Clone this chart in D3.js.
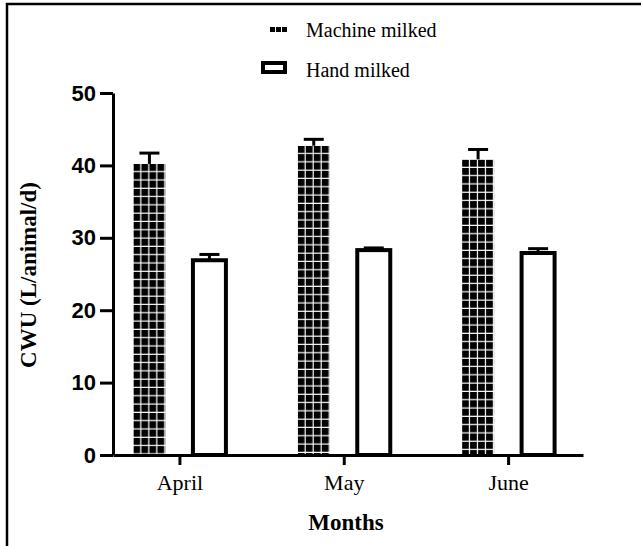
<!DOCTYPE html>
<html>
<head>
<meta charset="utf-8">
<script src="https://cdn.jsdelivr.net/npm/d3@7"></script>
<style>
  body { margin: 0; background: #fff; }
  svg { display: block; }
</style>
</head>
<body>
<div id="chart"></div>
<script>
// data
const months = ["April", "May", "June"];
const series = ["Machine milked", "Hand milked"];
const machineMean = [40.2, 42.7, 40.8];
const machineErr = [1.5, 0.9, 1.4];
const handMean = [26.9, 28.3, 27.9];
const handErr = [0.8, 0.3, 0.6];
const yTicks = [0, 10, 20, 30, 40, 50];

const width = 641, height = 546;
const serif = "Liberation Serif, Times New Roman, serif";

const svg = d3.select("#chart").append("svg")
    .attr("width", width)
    .attr("height", height);

const defs = svg.append("defs");

// outer frame (left and top only, like the crop)
svg.append("path")
    .attr("d", `M7,${height} V4 H${width}`)
    .attr("fill", "none")
    .attr("stroke", "#000")
    .attr("stroke-width", 2.5);

// scales
const y = d3.scaleLinear().domain([0, 50]).range([455, 93]);
const x = d3.scalePoint().domain(months).range([113, 583]).padding(0.43).align(0.47);
const inner = d3.scalePoint().domain(series).range([-30, 30]);

// table built from the arrays
const rows = [];
months.forEach((m, i) => {
    rows.push({ month: m, s: series[0], v: machineMean[i], e: machineErr[i], idx: i });
    rows.push({ month: m, s: series[1], v: handMean[i], e: handErr[i], idx: i });
});

const barW = 32;

// one grid pattern per machine bar so cells start at the bar corner
rows.filter(d => d.s === series[0]).forEach(d => {
    const bx = x(d.month) + inner(d.s) - barW / 2;
    const p = defs.append("pattern")
        .attr("id", "grid" + d.idx)
        .attr("patternUnits", "userSpaceOnUse")
        .attr("x", bx)
        .attr("y", y(d.v))
        .attr("width", 8)
        .attr("height", 8.3);
    p.append("rect").attr("width", 8).attr("height", 8.3).attr("fill", "#fff");
    p.append("rect").attr("width", 6.8).attr("height", 7.1).attr("fill", "#000");
});

const g = svg.append("g");

// error bars (upper only)
const err = g.selectAll("g.err").data(rows).enter().append("g").attr("class", "err");
err.append("line")
    .attr("x1", d => x(d.month) + inner(d.s))
    .attr("x2", d => x(d.month) + inner(d.s))
    .attr("y1", d => y(d.v))
    .attr("y2", d => y(d.v + d.e))
    .attr("stroke", "#000")
    .attr("stroke-width", 3);
err.append("line")
    .attr("x1", d => x(d.month) + inner(d.s) - 10)
    .attr("x2", d => x(d.month) + inner(d.s) + 10)
    .attr("y1", d => y(d.v + d.e))
    .attr("y2", d => y(d.v + d.e))
    .attr("stroke", "#000")
    .attr("stroke-width", 3);

// bars
g.selectAll("rect.bar").data(rows).enter().append("rect")
    .attr("class", "bar")
    .attr("x", d => x(d.month) + inner(d.s) - (d.s === series[0] ? barW / 2 : 16.5))
    .attr("y", d => y(d.v))
    .attr("width", d => d.s === series[0] ? barW : 33)
    .attr("height", d => y(0) - y(d.v))
    .attr("fill", d => d.s === series[0] ? `url(#grid${d.idx})` : "#fff")
    .attr("stroke", d => d.s === series[0] ? "none" : "#000")
    .attr("stroke-width", 4);

// y axis
const yAxis = svg.append("g")
    .attr("transform", "translate(113,0)")
    .call(d3.axisLeft(y).tickValues(yTicks).tickSize(13).tickPadding(4).tickSizeOuter(0));
yAxis.select(".domain").attr("stroke-width", 3);
yAxis.selectAll(".tick line").attr("stroke-width", 3);
yAxis.selectAll(".tick text")
    .attr("font-family", "Liberation Sans, Arial, sans-serif")
    .attr("font-weight", "bold")
    .attr("font-size", 22)
    .attr("fill", "#000");

// x axis
const xAxis = svg.append("g")
    .attr("transform", `translate(0,${y(0)})`)
    .call(d3.axisBottom(x).tickSize(10).tickPadding(9).tickSizeOuter(0));
xAxis.select(".domain").attr("stroke-width", 3);
xAxis.selectAll(".tick line").attr("stroke-width", 3);
xAxis.selectAll(".tick text")
    .attr("font-family", serif)
    .attr("font-size", 22)
    .attr("fill", "#000");

// axis titles
svg.append("text")
    .attr("x", 346).attr("y", 530)
    .attr("text-anchor", "middle")
    .attr("font-family", serif)
    .attr("font-weight", "bold")
    .attr("font-size", 23)
    .text("Months");

svg.append("text")
    .attr("transform", "translate(36,275) rotate(-90)")
    .attr("text-anchor", "middle")
    .attr("font-family", serif)
    .attr("font-weight", "bold")
    .attr("font-size", 23)
    .text("CWU (L/animal/d)");

// legend
const legend = svg.append("g");
const lg0 = legend.append("g");
[0, 1, 2].forEach(k => {
    lg0.append("rect")
        .attr("x", 270 + k * 6).attr("y", 27)
        .attr("width", 5).attr("height", 5)
        .attr("fill", "#000");
});
lg0.append("text")
    .attr("x", 306).attr("y", 37)
    .attr("font-family", serif)
    .attr("font-size", 20)
    .text(series[0]);

const lg1 = legend.append("g");
lg1.append("rect")
    .attr("x", 263).attr("y", 63)
    .attr("width", 22).attr("height", 9)
    .attr("fill", "#fff")
    .attr("stroke", "#000")
    .attr("stroke-width", 4);
lg1.append("text")
    .attr("x", 306).attr("y", 77)
    .attr("font-family", serif)
    .attr("font-size", 20)
    .text(series[1]);
</script>
</body>
</html>
